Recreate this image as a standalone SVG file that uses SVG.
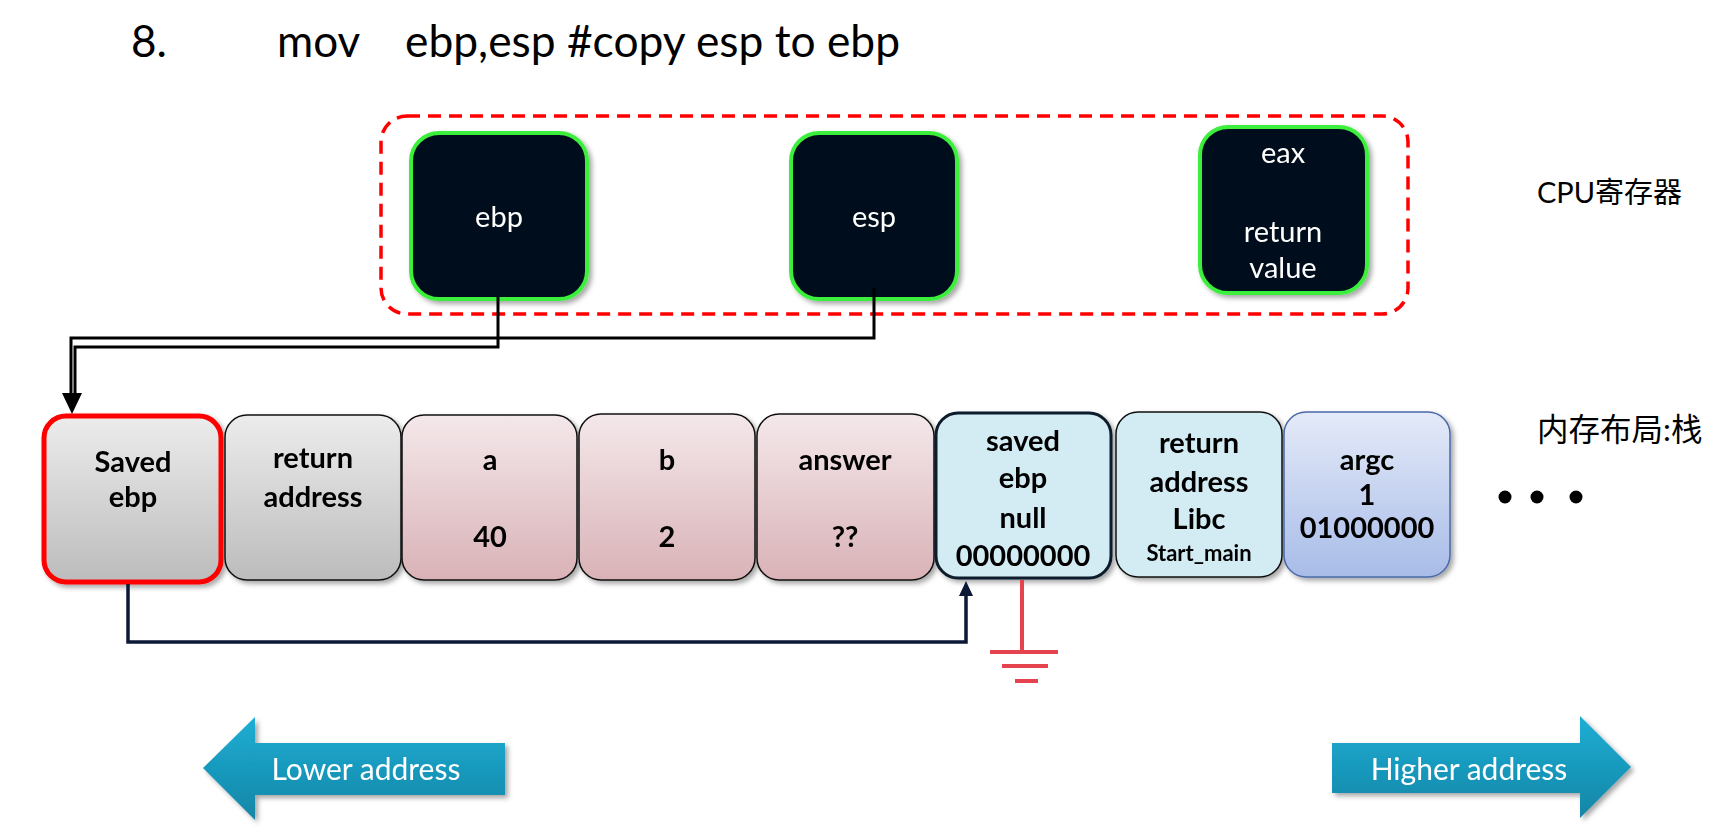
<svg xmlns="http://www.w3.org/2000/svg" width="1718" height="831" viewBox="0 0 1718 831">
<defs>
  <style>
    .title{font-family:Lato,"Liberation Sans",sans-serif;font-size:44px;fill:#000}
    .reg{fill:#03111c;stroke:#3cef3c;stroke-width:4}
    .regt{font-family:Lato,"Liberation Sans",sans-serif;font-size:29px;fill:#fff;text-anchor:middle}
    .cell{stroke:#111;stroke-width:1.5}
    .ct{font-family:Lato,"Liberation Sans",sans-serif;font-weight:bold;font-size:29px;fill:#000;text-anchor:middle}
    .cts{font-family:Lato,"Liberation Sans",sans-serif;font-weight:bold;font-size:22px;fill:#000;text-anchor:middle}
    .lbl{font-family:Lato,"Noto Sans CJK SC",sans-serif;fill:#000}
    .conn{fill:none;stroke:#000;stroke-width:3}
    .nav{fill:none;stroke:#0b1836;stroke-width:3.5}
    .gnd{stroke:#e5444f;stroke-width:4}
    .arrt{font-family:Lato,"Liberation Sans",sans-serif;font-size:30px;fill:#fff;text-anchor:middle}
  </style>
  <filter id="sh" x="-20%" y="-20%" width="140%" height="140%">
    <feDropShadow dx="3" dy="3" stdDeviation="2.5" flood-color="#000" flood-opacity="0.35"/>
  </filter>
  <linearGradient id="gGray" x1="0" y1="0" x2="0" y2="1">
    <stop offset="0" stop-color="#ececec"/><stop offset="1" stop-color="#bcbcbc"/>
  </linearGradient>
  <linearGradient id="gPink" x1="0" y1="0" x2="0" y2="1">
    <stop offset="0" stop-color="#f4e8ea"/><stop offset="1" stop-color="#d9b2b7"/>
  </linearGradient>
  <linearGradient id="gBlue" x1="0" y1="0" x2="0" y2="1">
    <stop offset="0" stop-color="#e4eaf8"/><stop offset="1" stop-color="#a8bce8"/>
  </linearGradient>
  <linearGradient id="gArr" x1="0" y1="0" x2="0" y2="1">
    <stop offset="0" stop-color="#1eaed4"/><stop offset="1" stop-color="#1385a6"/>
  </linearGradient>
</defs>
<rect width="1718" height="831" fill="#fff"/>

<g id="title">
  <text class="title" x="131" y="57">8.</text>
  <text class="title" x="277" y="57">mov</text>
  <text class="title" x="405" y="57" textLength="495" lengthAdjust="spacingAndGlyphs">ebp,esp #copy esp to ebp</text>
</g>

<g id="cpu-group">
  <rect x="381" y="116" width="1027" height="198" rx="26" fill="none" stroke="#ff0000" stroke-width="3.5" stroke-dasharray="13,8"/>
</g>
<g id="reg-ebp" filter="url(#sh)">
  <rect class="reg" x="411" y="133" width="176" height="166" rx="28"/>
  <text class="regt" x="499" y="227">ebp</text>
</g>
<g id="reg-esp" filter="url(#sh)">
  <rect class="reg" x="791" y="133" width="166" height="166" rx="28"/>
  <text class="regt" x="874" y="227">esp</text>
</g>
<g id="reg-eax" filter="url(#sh)">
  <rect class="reg" x="1200" y="127" width="167" height="166" rx="28"/>
  <text class="regt" x="1283" y="163">eax</text>
  <text class="regt" x="1283" y="242">return</text>
  <text class="regt" x="1283" y="278">value</text>
</g>

<g id="label-cpu"><text class="lbl" x="1537" y="203" font-size="29">CPU寄存器</text></g>
<g id="label-mem"><text class="lbl" x="1537" y="441" font-size="31.5">内存布局:栈</text></g>

<g id="cell-saved-ebp" filter="url(#sh)">
  <rect x="44" y="416" width="177" height="166" rx="22" fill="url(#gGray)" stroke="#ff0000" stroke-width="5"/>
  <text class="ct" x="133" y="472">Saved</text>
  <text class="ct" x="133" y="507">ebp</text>
</g>
<g id="cell-ret" filter="url(#sh)">
  <rect class="cell" x="225" y="415" width="176" height="165" rx="22" fill="url(#gGray)"/>
  <text class="ct" x="313" y="468">return</text>
  <text class="ct" x="313" y="507">address</text>
</g>
<g id="cell-a" filter="url(#sh)">
  <rect class="cell" x="402" y="415" width="175" height="165" rx="22" fill="url(#gPink)"/>
  <text class="ct" x="490" y="470">a</text>
  <text class="ct" x="490" y="547">40</text>
</g>
<g id="cell-b" filter="url(#sh)">
  <rect class="cell" x="579" y="414" width="176" height="166" rx="22" fill="url(#gPink)"/>
  <text class="ct" x="667" y="470">b</text>
  <text class="ct" x="667" y="547">2</text>
</g>
<g id="cell-answer" filter="url(#sh)">
  <rect class="cell" x="757" y="414" width="177" height="166" rx="22" fill="url(#gPink)"/>
  <text class="ct" x="845" y="470">answer</text>
  <text class="ct" x="845" y="547">??</text>
</g>
<g id="cell-saved-null" filter="url(#sh)">
  <rect x="936" y="413" width="175" height="165" rx="22" fill="#d3ecf4" stroke="#0d1b2a" stroke-width="3"/>
  <text class="ct" x="1023" y="451">saved</text>
  <text class="ct" x="1023" y="488">ebp</text>
  <text class="ct" x="1023" y="528">null</text>
  <text class="ct" x="1023" y="566">00000000</text>
</g>
<g id="cell-ret-libc" filter="url(#sh)">
  <rect class="cell" x="1116" y="412" width="166" height="165" rx="22" fill="#d3ecf4"/>
  <text class="ct" x="1199" y="453">return</text>
  <text class="ct" x="1199" y="492">address</text>
  <text class="ct" x="1199" y="529">Libc</text>
  <text class="cts" x="1199" y="561">Start_main</text>
</g>
<g id="cell-argc" filter="url(#sh)">
  <rect x="1284" y="412" width="166" height="165" rx="22" fill="url(#gBlue)" stroke="#4a6aa8" stroke-width="1.5"/>
  <text class="ct" x="1367" y="470">argc</text>
  <text class="ct" x="1367" y="505">1</text>
  <text class="ct" x="1367" y="538">01000000</text>
</g>

<g id="ellipsis" fill="#000">
  <circle cx="1505" cy="497" r="6.5"/>
  <circle cx="1537" cy="497" r="6.5"/>
  <circle cx="1576" cy="497" r="6.5"/>
</g>

<g id="connectors">
  <path class="conn" d="M874,288 V338 H71 V396"/>
  <path class="conn" d="M498,297 V347 H75 V396"/>
  <polygon points="62,393 82,393 72,414" fill="#000"/>
  <path class="nav" d="M128,584 V642 H966 V594"/>
  <polygon points="959,596 973,596 966,581" fill="#0b1836"/>
  <line class="gnd" x1="1022" y1="580" x2="1022" y2="652"/>
  <line class="gnd" x1="990" y1="652" x2="1058" y2="652"/>
  <line class="gnd" x1="1002" y1="666" x2="1048" y2="666"/>
  <line class="gnd" x1="1015" y1="681" x2="1038" y2="681"/>
</g>

<g id="arrow-lower" filter="url(#sh)">
  <polygon points="203,768 255,717 255,743 505,743 505,795 255,795 255,820" fill="url(#gArr)"/>
  <text class="arrt" x="366" y="780">Lower address</text>
</g>
<g id="arrow-higher" filter="url(#sh)">
  <polygon points="1332,743 1580,743 1580,716 1631,767 1580,818 1580,793 1332,793" fill="url(#gArr)"/>
  <text class="arrt" x="1469" y="780">Higher address</text>
</g>
</svg>
